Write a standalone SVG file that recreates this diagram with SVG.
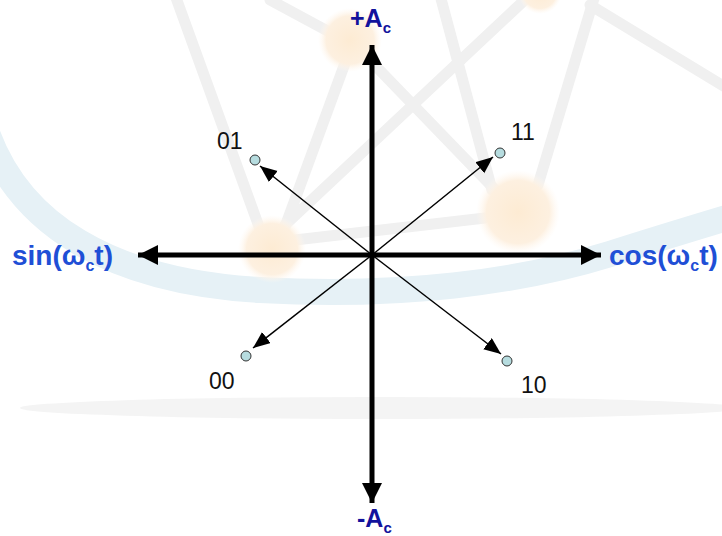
<svg xmlns="http://www.w3.org/2000/svg" width="722" height="536" viewBox="0 0 722 536">
<style>
.bgline{stroke:#f0f0f0;stroke-width:11;fill:none;stroke-linecap:round}
.axis{stroke:#000;stroke-width:5;fill:none}
.vec{stroke:#000;stroke-width:1.5;fill:none}
.dot{fill:#b6dcdf;stroke:#333;stroke-width:1}
.lbl{font-family:"Liberation Sans",Arial,sans-serif;fill:#111}
.ax{font-family:"Liberation Sans",Arial,sans-serif;font-weight:bold;fill:#1f4fd6}
.amp{font-family:"Liberation Sans",Arial,sans-serif;font-weight:bold;fill:#12129c}
</style>
<defs>
<radialGradient id="orb" cx="0.5" cy="0.5" r="0.5">
<stop offset="0" stop-color="#fdebd3"/>
<stop offset="0.75" stop-color="#fdf0e0"/>
<stop offset="1" stop-color="#fff8f0" stop-opacity="0"/>
</radialGradient>
<marker id="bigHead" markerUnits="userSpaceOnUse" markerWidth="24" markerHeight="22" refX="20" refY="10" orient="auto">
<path d="M0,0 L20,10 L0,20 Z" fill="#000"/>
</marker>
<marker id="smallHead" markerUnits="userSpaceOnUse" markerWidth="20" markerHeight="16" refX="17" refY="7" orient="auto">
<path d="M0,0 L17,7 L0,14 Z" fill="#000"/>
</marker>
</defs>
<rect width="722" height="536" fill="#fff"/>
<g id="background">
<path d="M-20,110 C 10,230 120,282 260,290 C 400,298 520,282 610,254 C 660,238 700,226 740,214" stroke="#e6f1f6" stroke-width="26" fill="none"/>
<ellipse cx="380" cy="408" rx="360" ry="11" fill="#f4f4f4"/>
<path class="bgline" d="M175,-5 L262,235"/>
<path class="bgline" d="M282,235 L348,55"/>
<path class="bgline" d="M270,0 L335,35"/>
<path class="bgline" d="M365,55 L505,200"/>
<path class="bgline" d="M285,225 L530,-5"/>
<path class="bgline" d="M440,-5 L492,190"/>
<path class="bgline" d="M538,185 L595,-5"/>
<path class="bgline" d="M590,5 L730,90"/>
<path class="bgline" d="M295,240 L485,218"/>
<circle cx="350" cy="40" r="32" fill="url(#orb)"/>
<circle cx="518" cy="212" r="42" fill="url(#orb)"/>
<circle cx="272" cy="249" r="34" fill="url(#orb)"/>
<circle cx="540" cy="-8" r="22" fill="url(#orb)"/>
</g>
<g id="connectors">
<line class="axis" x1="372" y1="255" x2="372" y2="45" marker-end="url(#bigHead)"/>
<line class="axis" x1="372" y1="255" x2="372" y2="503" marker-end="url(#bigHead)"/>
<line class="axis" x1="372" y1="255" x2="138" y2="255" marker-end="url(#bigHead)"/>
<line class="axis" x1="372" y1="255" x2="601" y2="255" marker-end="url(#bigHead)"/>
<line class="vec" x1="372" y1="255" x2="260" y2="166" marker-end="url(#smallHead)"/>
<line class="vec" x1="372" y1="255" x2="493" y2="157" marker-end="url(#smallHead)"/>
<line class="vec" x1="372" y1="255" x2="253" y2="348" marker-end="url(#smallHead)"/>
<line class="vec" x1="372" y1="255" x2="501" y2="354" marker-end="url(#smallHead)"/>
</g>
<g id="node-01"><circle class="dot" cx="255" cy="160" r="5"/><text class="lbl" font-size="23" x="217" y="149">01</text></g>
<g id="node-11"><circle class="dot" cx="500" cy="153" r="5"/><text class="lbl" font-size="23" x="511" y="140">11</text></g>
<g id="node-00"><circle class="dot" cx="246" cy="356" r="5"/><text class="lbl" font-size="23" x="209" y="389">00</text></g>
<g id="node-10"><circle class="dot" cx="507" cy="361" r="5"/><text class="lbl" font-size="23" x="521" y="393">10</text></g>
<g id="label-plusAc"><text class="amp" font-size="25" x="350" y="27">+A<tspan font-size="15" dy="6">c</tspan></text></g>
<g id="label-minusAc"><text class="amp" font-size="25" x="357" y="527">-A<tspan font-size="15" dy="6">c</tspan></text></g>
<g id="label-sin"><text class="ax" font-size="28" x="12" y="265">sin(ω<tspan font-size="16" dy="6">c</tspan><tspan dy="-6">t)</tspan></text></g>
<g id="label-cos"><text class="ax" font-size="28" x="609" y="265">cos(ω<tspan font-size="16" dy="6">c</tspan><tspan dy="-6">t)</tspan></text></g>
</svg>
